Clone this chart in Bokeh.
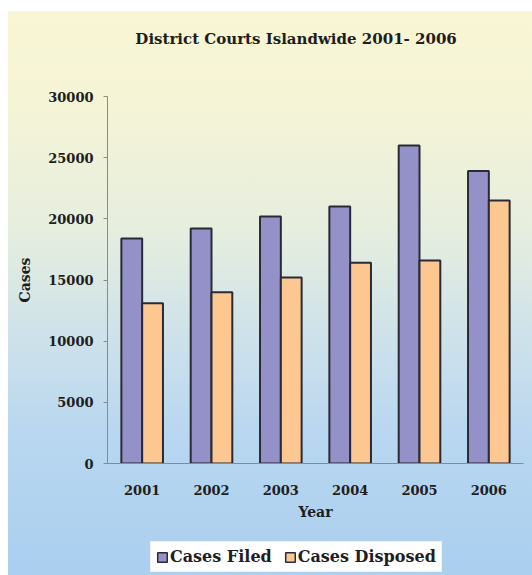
from bokeh.plotting import figure
from bokeh.layouts import column
from bokeh.models import FactorRange, Range1d, Legend, LegendItem, ColumnDataSource
from bokeh.core.properties import value
from bokeh.transform import dodge
from bokeh.embed import file_html
from bokeh.resources import INLINE

title_text = "District Courts Islandwide 2001- 2006"
years = ["2001", "2002", "2003", "2004", "2005", "2006"]
cases_filed = [18400, 19200, 20200, 21000, 26000, 23900]
cases_disposed = [13100, 14000, 15200, 16400, 16600, 21500]
y_ticks = [0, 5000, 10000, 15000, 20000, 25000, 30000]
series_names = ["Cases Filed", "Cases Disposed"]

FONT = "DejaVu Serif"
TXT = "#1e1e1e"
FILED = "#9491c9"
DISP = "#fcc791"
EDGE = "#2a2a35"
NAN = float("nan")


def bare(height):
    f = figure(width=532, height=height, x_range=Range1d(0, 1), y_range=Range1d(0, 1),
               output_backend="svg", toolbar_location=None,
               x_axis_location=None, y_axis_location=None,
               min_border=0, min_border_left=0, min_border_right=0, min_border_top=0, min_border_bottom=0,
               background_fill_color=None, border_fill_color=None, outline_line_color=None)
    f.xgrid.grid_line_color = None
    f.ygrid.grid_line_color = None
    return f


# title strip (frame aligned with the chart frame)
t = bare(50)
t.text(x=[0.067], y=[0.24], text=[title_text], text_font=value(FONT), text_font_size="15px",
       text_font_style="bold", text_color=TXT, text_align="left", text_baseline="middle")

src = ColumnDataSource(dict(year=years, filed=cases_filed, disposed=cases_disposed))

p = figure(width=532, height=480, x_range=FactorRange(*years), y_range=Range1d(0, 30000),
           output_backend="svg", toolbar_location=None,
           min_border_left=107, min_border_right=9, min_border_top=46, min_border_bottom=67,
           background_fill_color=None, border_fill_color=None, outline_line_color=None)

r1 = p.vbar(x=dodge("year", -0.15, range=p.x_range), top="filed", width=0.3, source=src,
            fill_color=FILED, line_color=EDGE, line_width=2)
r2 = p.vbar(x=dodge("year", 0.15, range=p.x_range), top="disposed", width=0.3, source=src,
            fill_color=DISP, line_color=EDGE, line_width=2)

p.xgrid.grid_line_color = None
p.ygrid.grid_line_color = None

for ax in (p.xaxis[0], p.yaxis[0]):
    ax.axis_line_color = "#8a8a8a"
    ax.major_tick_line_color = "#8a8a8a"
    ax.minor_tick_line_color = None
    ax.major_label_text_font = FONT
    ax.major_label_text_font_size = "13px"
    ax.major_label_text_font_style = "bold"
    ax.major_label_text_color = TXT
    ax.axis_label_text_font = FONT
    ax.axis_label_text_font_size = "14px"
    ax.axis_label_text_font_style = "bold"
    ax.axis_label_text_color = TXT

p.yaxis.ticker = y_ticks
p.yaxis.axis_label = "Cases"
p.yaxis.major_tick_out = 4
p.yaxis.major_tick_in = 0
p.yaxis.major_label_standoff = 10
p.yaxis.axis_label_standoff = 12
p.xaxis.axis_label = "Year"
p.xaxis.major_tick_line_color = None
p.xaxis.major_label_standoff = 15
p.xaxis.axis_label_standoff = 6

# legend strip below the chart (frame aligned with the chart frame)
q = bare(45)
g1b = q.vbar(x=[NAN], top=[NAN], width=0.1, fill_color=FILED, line_color=EDGE, line_width=1.5)
g2b = q.vbar(x=[NAN], top=[NAN], width=0.1, fill_color=DISP, line_color=EDGE, line_width=1.5)

legend = Legend(items=[LegendItem(label=series_names[0], renderers=[g1b]),
                       LegendItem(label=series_names[1], renderers=[g2b])],
                orientation="horizontal", location=(43, 3),
                background_fill_color="white", background_fill_alpha=1.0,
                border_line_color="#e4e4e4", label_text_font=FONT, label_text_font_size="16px",
                label_text_font_style="bold", label_text_color=TXT,
                glyph_width=12, glyph_height=12, label_standoff=2, spacing=12,
                padding=5, margin=0)
q.add_layout(legend)

layout = column(t, p, q, spacing=0)
layout.styles = {"background": "linear-gradient(to right, #ffffff 0px, #ffffff 8px, rgba(255,255,255,0) 8px), "
                               "linear-gradient(to bottom, #ffffff 0px, #ffffff 11px, #f8f6d4 11px, #f5f4d6 18%, "
                               "#e6eedf 40%, #cfe2ea 58%, #b9d7f0 75%, #aacfef 100%)"}

open("out.html", "w").write(file_html(layout, INLINE))
